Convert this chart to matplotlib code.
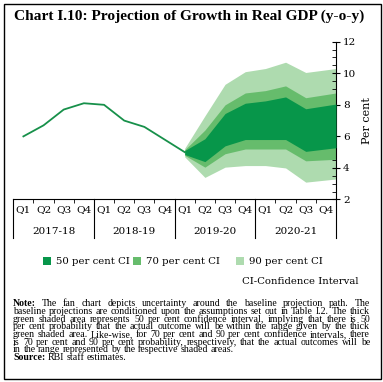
import matplotlib
matplotlib.use("Agg")
import matplotlib.pyplot as plt
from matplotlib.patches import Rectangle
from matplotlib.lines import Line2D

# ---------------- data ----------------
quarters = ["Q1", "Q2", "Q3", "Q4"] * 4
years = ["2017-18", "2018-19", "2019-20", "2020-21"]
actual_x = [0, 1, 2, 3, 4, 5, 6, 7, 8]
actual_gdp = [6.0, 6.7, 7.7, 8.1, 8.0, 7.0, 6.6, 5.8, 5.0]

fan_x = [8, 9, 10, 11, 12, 13, 14, 15.5]
ci90_low = [4.7, 3.4, 4.05, 4.15, 4.15, 4.0, 3.1, 3.3]
ci90_high = [5.25, 7.3, 9.3, 10.1, 10.3, 10.7, 10.05, 10.3]
ci70_low = [4.8, 4.05, 4.9, 5.2, 5.2, 5.2, 4.45, 4.55]
ci70_high = [5.15, 6.4, 8.0, 8.75, 8.9, 9.2, 8.45, 8.75]
ci50_low = [4.85, 4.4, 5.4, 5.8, 5.8, 5.8, 5.05, 5.28]
ci50_high = [5.1, 5.85, 7.45, 8.1, 8.25, 8.5, 7.75, 8.05]

legend_labels = ["50 per cent CI", "70 per cent CI", "90 per cent CI"]
y_ticks = [2, 4, 6, 8, 10, 12]

title = "Chart I.10: Projection of Growth in Real GDP (y-o-y)"
note_lines = [
    "The fan chart depicts uncertainty around the baseline projection path. The",
    "baseline projections are conditioned upon the assumptions set out in Table I.2. The thick",
    "green shaded area represents 50 per cent confidence interval, implying that there is 50",
    "per cent probability that the actual outcome will be within the range given by the thick",
    "green shaded area. Like-wise, for 70 per cent and 90 per cent confidence intervals, there",
    "is 70 per cent and 90 per cent probability, respectively, that the actual outcomes will be",
    "in the range represented by the respective shaded areas.",
]
source_text = "RBI staff estimates."

# ---------------- style ----------------
C50 = "#07964A"
C70 = "#66BC6C"
C90 = "#AEDBAF"
CLINE = "#17904A"
SERIF = ["DejaVu Serif"]
TSERIF = ["Liberation Serif"]

W, H = 383, 382
fig = plt.figure(figsize=(W / 100, H / 100), dpi=100)
fig.canvas.draw()
R = fig.canvas.get_renderer()


def fx(px):
    return px / W


def fy(py):
    return 1 - py / H


def width_px(t):
    return t.get_window_extent(R).width


# border
fig.patches.append(Rectangle((fx(3.5), fy(379)), fx(377), (375.5) / H,
                             transform=fig.transFigure, fill=False,
                             edgecolor="black", linewidth=1.0))

# title fitted to width
tt = fig.text(fx(14), fy(16), title, ha="left", va="center", fontsize=11,
              fontweight="bold", family=TSERIF)
tt.set_fontsize(11 * (363 - 14) / width_px(tt))

ax_left, ax_right, ax_top, ax_bot = 13.3, 336, 41.7, 199.5
ax = fig.add_axes([fx(ax_left), fy(ax_bot), (ax_right - ax_left) / W,
                   (ax_bot - ax_top) / H])

ax.fill_between(fan_x, ci90_low, ci90_high, color=C90, linewidth=0, zorder=1)
ax.fill_between(fan_x, ci70_low, ci70_high, color=C70, linewidth=0, zorder=2)
ax.fill_between(fan_x, ci50_low, ci50_high, color=C50, linewidth=0, zorder=3)
ax.plot(actual_x, actual_gdp, color=CLINE, linewidth=1.3, zorder=4)

ax.set_xlim(-0.5, 15.5)
ax.set_ylim(2, 12)
for s in ["left", "top"]:
    ax.spines[s].set_visible(False)
ax.spines["bottom"].set_linewidth(0.8)
ax.spines["right"].set_linewidth(0.8)

ax.yaxis.tick_right()
ax.yaxis.set_label_position("right")
ax.set_yticks(y_ticks)
ax.set_yticks([v + 0.5 * k for v in y_ticks[:-1] for k in (1, 2, 3)], minor=True)
ax.set_yticklabels([str(t) for t in y_ticks], family=SERIF, fontsize=7.5)
ax.tick_params(axis="y", which="major", direction="inout", length=6, width=0.8, pad=2)
ax.tick_params(axis="y", which="minor", direction="in", length=3, width=0.6)
ax.set_ylabel("Per cent", family=SERIF, fontsize=8, labelpad=4)

ax.set_xticks(range(16))
ax.set_xticklabels(quarters, family=SERIF, fontsize=7.5)
ax.tick_params(axis="x", which="major", length=0, pad=4)
ax.set_xticks([i + 0.5 for i in range(15)], minor=True)
ax.tick_params(axis="x", which="minor", direction="out", length=3, width=0.6)

trans = ax.get_xaxis_transform()
sep_bottom = -(238 - ax_bot) / (ax_bot - ax_top)
for b in [-0.5, 3.5, 7.5, 11.5, 15.5]:
    ax.add_line(Line2D([b, b], [0, sep_bottom], transform=trans, color="black",
                       linewidth=0.8, clip_on=False))
year_y = -(232 - ax_bot) / (ax_bot - ax_top)
for i, yr in enumerate(years):
    ax.text(4 * i + 1.5, year_y, yr, transform=trans, ha="center", va="center",
            family=SERIF, fontsize=7.5)

# legend
leg_x = [46.5, 137, 240]
for x0, lab, col in zip(leg_x, legend_labels, [C50, C70, C90]):
    fig.patches.append(Rectangle((fx(x0 - 4), fy(264.5)), 8 / W, 8 / H,
                                 transform=fig.transFigure, color=col, linewidth=0))
    fig.text(fx(x0 + 9), fy(261), lab, ha="left", va="center", fontsize=7.3,
             family=SERIF)

fig.text(fx(359), fy(282), "CI-Confidence Interval", ha="right", va="center",
         fontsize=7.3, family=SERIF)

# note (justified), font size fitted so the widest line fills the width
NSERIF = ["Liberation Serif"]
x_l, x_r = 13, 370
line_y0, dy = 303.5, 7.75
probe = fig.text(0, 0, "", fontsize=10, family=NSERIF)
maxw = 0
for k, line in enumerate(note_lines[:-1]):
    probe.set_text(line)
    probe.set_fontweight("normal")
    w = width_px(probe)
    if k == 0:
        probe.set_text("Note: ")
        probe.set_fontweight("bold")
        w += width_px(probe)
    maxw = max(maxw, w)
probe.remove()
fs = min(7.6, 10 * (x_r - x_l) / maxw * 0.98)


def put_line(y, words_bold, words, justify):
    items = [(w, True) for w in words_bold] + [(w, False) for w in words]
    texts = []
    widths = []
    for w, b in items:
        t = fig.text(0, fy(y), w, ha="left", va="center", fontsize=fs,
                     family=NSERIF, fontweight="bold" if b else "normal")
        texts.append(t)
        widths.append(width_px(t))
    space = fs * 100 / 72 * 0.25
    if justify and len(items) > 1:
        space = (x_r - x_l - sum(widths)) / (len(items) - 1)
    x = x_l
    for t, w in zip(texts, widths):
        t.set_x(fx(x))
        x += w + space


for k, line in enumerate(note_lines):
    bold = ["Note:"] if k == 0 else []
    put_line(line_y0 + k * dy, bold, line.split(), k < len(note_lines) - 1)
put_line(line_y0 + len(note_lines) * dy, ["Source:"], source_text.split(), False)

fig.savefig("out.png", dpi=100)
